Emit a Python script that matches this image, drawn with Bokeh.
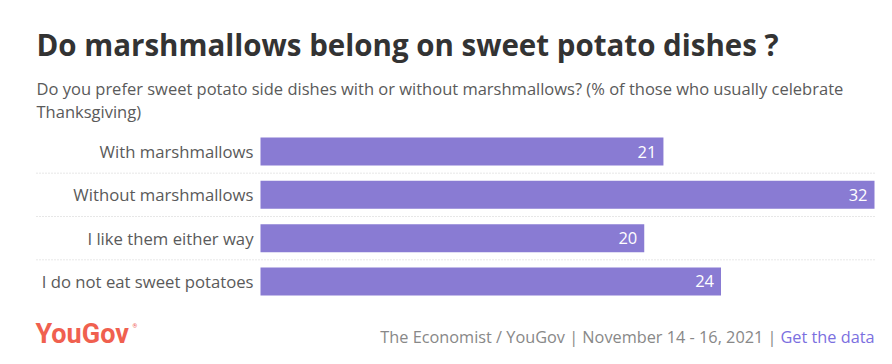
from bokeh.plotting import figure
from bokeh.models import Range1d, ColumnDataSource
from bokeh.core.properties import value
from bokeh.embed import file_html
from bokeh.resources import INLINE

categories = ["With marshmallows", "Without marshmallows", "I like them either way", "I do not eat sweet potatoes"]
values = [21, 32, 20, 24]
value_labels = ["21", "32", "20", "24"]

title = "Do marshmallows belong on sweet potato dishes ?"
subtitle1 = "Do you prefer sweet potato side dishes with or without marshmallows? (% of those who usually celebrate"
subtitle2 = "Thanksgiving)"
source_text = "The Economist / YouGov | November 14 - 16, 2021 |"
link_text = "Get the data"

W, H = 876, 348
ORG = 0                              # page offset of the canvas
BAR_X0, BAR_X1 = 260, 874            # page px where value 0 and max value sit
k = (BAR_X1 - BAR_X0) / max(values)  # px per unit


def px(p):
    return (p - BAR_X0) / k


p = figure(width=W, height=H, output_backend="svg", toolbar_location=None,
           x_range=Range1d(px(ORG), px(ORG + W)), y_range=Range1d(ORG + H, ORG),
           min_border=0, outline_line_color=None, background_fill_color="white",
           border_fill_color="white")
p.axis.visible = False
p.grid.visible = False

row0, step = 151, 43.33
ys = [row0 + i * step for i in range(len(categories))]
src = ColumnDataSource(dict(y=ys, v=values, cat=categories, lab=value_labels))

seps = [(ys[i] + ys[i + 1]) / 2 for i in range(len(ys) - 1)]
p.segment(x0=[px(36)] * len(seps), x1=[max(values)] * len(seps), y0=seps, y1=seps,
          line_color="#cfcfcf", line_width=1, line_dash="1 2")

p.hbar(y="y", left=0, right="v", height=28, source=src, fill_color="#897bd3", line_color=None)

FONT = value("Open Sans")
p.text(x="v", y="y", text="lab", source=src, x_offset=-7, text_align="right", text_baseline="middle",
       text_color="white", text_font=FONT, text_font_size="16.5px")
p.text(x=0, y="y", text="cat", source=src, x_offset=-7, text_align="right", text_baseline="middle",
       text_color="#5a5a5a", text_font=FONT, text_font_size="16.7px")

p.text(x=[px(36)], y=[44], text=[title], text_align="left", text_baseline="middle",
       text_color="#333333", text_font=FONT, text_font_size="29.5px", text_font_style="bold")
p.text(x=[px(36)], y=[88], text=[subtitle1], text_align="left", text_baseline="middle",
       text_color="#5a5a5a", text_font=FONT, text_font_size="16.5px")
p.text(x=[px(36)], y=[111], text=[subtitle2], text_align="left", text_baseline="middle",
       text_color="#5a5a5a", text_font=FONT, text_font_size="16.5px")

p.text(x=[px(35)], y=[333], text=["YouGov"], text_align="left", text_baseline="middle",
       text_color="#f0604f", text_font=value("Roboto"), text_font_size="27px", text_font_style="bold")
p.text(x=[px(132)], y=[325], text=["®"], text_align="left", text_baseline="middle",
       text_color="#f0604f", text_font=value("Roboto"), text_font_size="6px")

p.text(x=[px(776)], y=[336], text=[source_text], text_align="right", text_baseline="middle",
       text_color="#888888", text_font=FONT, text_font_size="16.3px")
p.text(x=[px(780)], y=[336], text=[link_text], text_align="left", text_baseline="middle",
       text_color="#7b6fe0", text_font=FONT, text_font_size="16.3px")

open("out.html", "w").write(file_html(p, INLINE))
